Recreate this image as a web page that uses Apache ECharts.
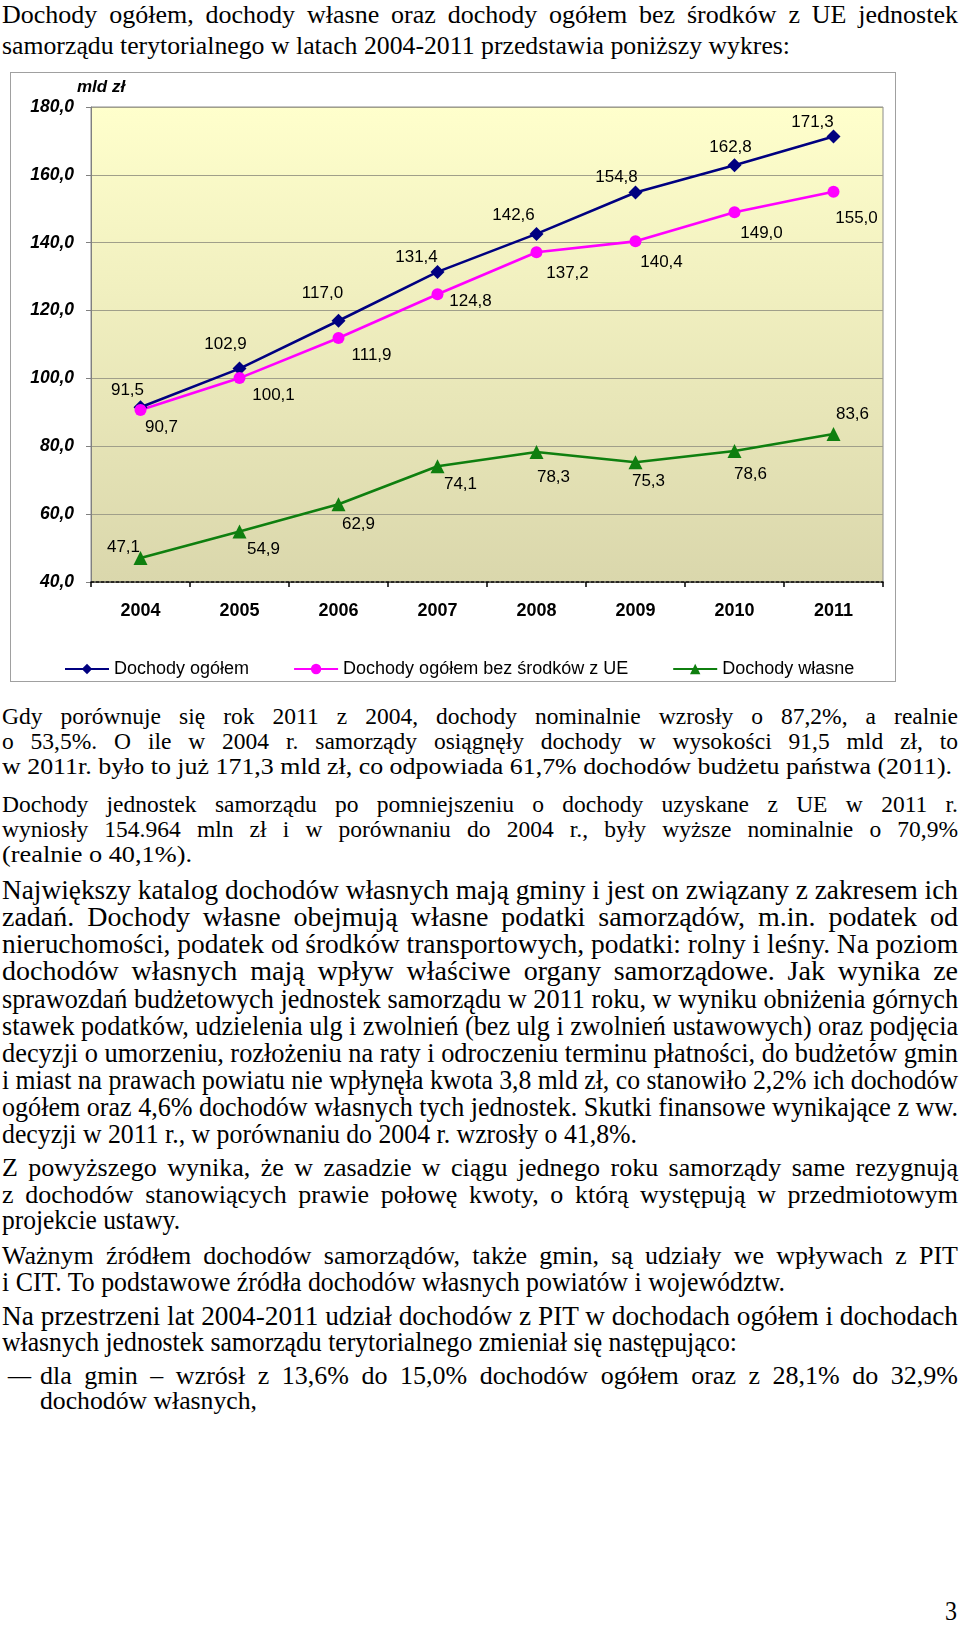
<!DOCTYPE html>
<html><head><meta charset="utf-8">
<script src="https://cdn.jsdelivr.net/npm/echarts@6/dist/echarts.min.js"></script>
<style>
html,body{margin:0;padding:0;background:#fff;}
#page{position:relative;width:960px;height:1633px;overflow:hidden;background:#fff;}
.ln{position:absolute;white-space:nowrap;font-family:"Liberation Serif","Times New Roman",serif;color:#000;transform-origin:0 50%;}
#chartBox{position:absolute;left:10px;top:72px;width:884px;height:608px;border:1px solid #A0A0A0;}
#chart{position:absolute;left:0;top:0;width:884px;height:608px;}
</style></head>
<body>
<div id="page">
  <div id="chartBox"><div id="chart"></div></div>
</div>
<script>
// ---- chart data ----
const years = ['2004', '2005', '2006', '2007', '2008', '2009', '2010', '2011'];
const dochodyOgolem = [91.5, 102.9, 117.0, 131.4, 142.6, 154.8, 162.8, 171.3];
const dochodyBezUE = [90.7, 100.1, 111.9, 124.8, 137.2, 140.4, 149.0, 155.0];
const dochodyWlasne = [47.1, 54.9, 62.9, 74.1, 78.3, 75.3, 78.6, 83.6];
const seriesNames = ['Dochody ogółem', 'Dochody ogółem bez środków z UE', 'Dochody własne'];
const yMin = 40, yMax = 180, yStep = 20;
const unitLabel = 'mld zł';

// ---- label placement (layout only) ----
const offOgolem = [[-13,-17],[-14,-24],[-16,-27],[-21,-15],[-23,-19],[-19,-15],[-4,-18],[-21,-14]];
const offBezUE = [[21,17],[34,17],[33,17],[33,7],[31,21],[26,21],[27,21],[23,26]];
const offWlasne = [[-17,-11],[24,18],[20,20],[23,18],[17,25],[13,19],[16,23],[19,-20]];

const fmt = v => Number(v).toFixed(1).replace('.', ',');
const FONT = 'Liberation Sans';

function mkSeries(name, data, color, symbol, size, offsets) {
  return {
    name: name, type: 'line',
    data: data.map((v, i) => ({ value: v, label: { offset: offsets[i] } })),
    symbol: symbol, symbolSize: size,
    lineStyle: { color: color, width: 2.6 },
    itemStyle: { color: color },
    label: { show: true, position: 'inside', formatter: p => fmt(p.value), color: '#000', fontSize: 17, fontFamily: FONT },
    emphasis: { disabled: true },
    animation: false
  };
}

const chart = echarts.init(document.getElementById('chart'));
chart.setOption({
  animation: false,
  grid: {
    left: 80, right: 12, top: 34, bottom: 99, show: true,
    borderColor: '#8C8C8C', borderWidth: 1,
    backgroundColor: new echarts.graphic.LinearGradient(0, 0, 0, 1, [
      { offset: 0, color: '#FFFFCC' }, { offset: 1, color: '#DAD7AC' }
    ])
  },
  legend: {
    data: seriesNames, left: 48, top: 582, itemWidth: 44, itemHeight: 13, itemGap: 44,
    textStyle: { fontSize: 18, fontFamily: FONT, color: '#000' }
  },
  graphic: [{ type: 'text', left: 66, top: 6, style: { text: unitLabel, font: 'italic bold 17px "Liberation Sans"', fill: '#000' } }],
  xAxis: {
    type: 'category', data: years, boundaryGap: true,
    axisLine: { lineStyle: { color: '#000', type: [3, 2], width: 1.5 } },
    axisTick: { show: true, length: 5, lineStyle: { color: '#000', width: 1.5 } },
    axisLabel: { fontWeight: 'bold', fontSize: 18, color: '#000', margin: 20, fontFamily: FONT }
  },
  yAxis: {
    type: 'value', min: yMin, max: yMax, interval: yStep,
    axisLine: { show: true, lineStyle: { color: '#808080', width: 1 } },
    axisTick: { show: true, length: 5, lineStyle: { color: '#808080' } },
    splitLine: { lineStyle: { color: '#A09F8A', width: 1 } },
    axisLabel: { formatter: v => fmt(v), fontStyle: 'italic', fontWeight: 'bold', fontSize: 17.5, color: '#000', margin: 17, fontFamily: FONT }
  },
  series: [
    mkSeries(seriesNames[0], dochodyOgolem, '#000080', 'diamond', 14, offOgolem),
    mkSeries(seriesNames[1], dochodyBezUE, '#FF00FF', 'circle', 12, offBezUE),
    mkSeries(seriesNames[2], dochodyWlasne, '#0F7F0F', 'triangle', 14, offWlasne)
  ]
});

// ---- page text ----
const R = 958;
const A = 23.5, B = 28, C = 26;
const lines = [
  {t:'Dochody ogółem, dochody własne oraz dochody ogółem bez środków z UE jednostek', x:2, y:15, fs:C, end:R, j:1},
  {t:'samorządu terytorialnego w latach 2004-2011 przedstawia poniższy wykres:', x:2, y:46, fs:C, end:790, f:1},

  {t:'Gdy porównuje się rok 2011 z 2004, dochody nominalnie wzrosły o 87,2%, a realnie', x:2, y:717, fs:A, end:R, j:1},
  {t:'o 53,5%. O ile w 2004 r. samorządy osiągnęły dochody w wysokości 91,5 mld zł, to', x:2, y:742, fs:A, end:R, j:1},
  {t:'w 2011r. było to już 171,3 mld zł, co odpowiada 61,7% dochodów budżetu państwa (2011).', x:2, y:767, fs:A, end:952, f:1},

  {t:'Dochody jednostek samorządu po pomniejszeniu o dochody uzyskane z UE w 2011 r.', x:2, y:805, fs:A, end:R, j:1},
  {t:'wyniosły 154.964 mln zł i w porównaniu do 2004 r., były wyższe nominalnie o 70,9%', x:2, y:830, fs:A, end:R, j:1},
  {t:'(realnie o 40,1%).', x:2, y:855, fs:A, end:192, f:1},

  {t:'Największy katalog dochodów własnych mają gminy i jest on związany z zakresem ich', x:2, y:890, fs:B, end:R, j:1},
  {t:'zadań. Dochody własne obejmują własne podatki samorządów, m.in. podatek od', x:2, y:917, fs:B, end:R, j:1},
  {t:'nieruchomości, podatek od środków transportowych, podatki: rolny i leśny. Na poziom', x:2, y:944, fs:B, end:R, j:1},
  {t:'dochodów własnych mają wpływ właściwe organy samorządowe. Jak wynika ze', x:2, y:971, fs:B, end:R, j:1},
  {t:'sprawozdań budżetowych jednostek samorządu w 2011 roku, w wyniku obniżenia górnych', x:2, y:999, fs:B, end:R, j:1},
  {t:'stawek podatków, udzielenia ulg i zwolnień (bez ulg i zwolnień ustawowych) oraz podjęcia', x:2, y:1026, fs:B, end:R, j:1},
  {t:'decyzji o umorzeniu, rozłożeniu na raty i odroczeniu terminu płatności, do budżetów gmin', x:2, y:1053, fs:B, end:R, j:1},
  {t:'i miast na prawach powiatu nie wpłynęła kwota 3,8 mld zł, co stanowiło 2,2% ich dochodów', x:2, y:1080, fs:B, end:R, j:1},
  {t:'ogółem oraz 4,6% dochodów własnych tych jednostek. Skutki finansowe wynikające z ww.', x:2, y:1107, fs:B, end:R, j:1},
  {t:'decyzji w 2011 r., w porównaniu do 2004 r. wzrosły o 41,8%.', x:2, y:1134, fs:B, end:637, f:1},

  {t:'Z powyższego wynika, że w zasadzie w ciągu jednego roku samorządy same rezygnują', x:2, y:1168, fs:C, end:R, j:1},
  {t:'z dochodów stanowiących prawie połowę kwoty, o którą występują w przedmiotowym', x:2, y:1195, fs:C, end:R, j:1},
  {t:'projekcie ustawy.', x:2, y:1220, fs:B, end:180, f:1},

  {t:'Ważnym źródłem dochodów samorządów, także gmin, są udziały we wpływach z PIT', x:2, y:1256, fs:C, end:R, j:1},
  {t:'i CIT. To podstawowe źródła dochodów własnych powiatów i województw.', x:2, y:1282, fs:B, end:785, f:1},

  {t:'Na przestrzeni lat 2004-2011 udział dochodów z PIT w dochodach ogółem i dochodach', x:2, y:1316, fs:B, end:R, j:1},
  {t:'własnych jednostek samorządu terytorialnego zmieniał się następująco:', x:2, y:1342, fs:B, end:737, f:1},

  {t:'–', x:8, y:1376, fs:C, end:31, f:1},
  {t:'dla gmin – wzrósł z 13,6% do 15,0% dochodów ogółem oraz z 28,1% do 32,9%', x:40, y:1376, fs:C, end:R, j:1},
  {t:'dochodów własnych,', x:40, y:1401, fs:C, end:257, f:1},

  {t:'3', x:945, y:1611, fs:B, end:957, f:1}
];
const page = document.getElementById('page');
lines.forEach(L => {
  const d = document.createElement('div');
  d.className = 'ln';
  d.style.left = L.x + 'px';
  d.style.fontSize = L.fs + 'px';
  d.style.lineHeight = L.fs + 'px';
  d.style.top = (L.y - L.fs / 2) + 'px';
  d.textContent = L.t;
  page.appendChild(d);
  const w = d.getBoundingClientRect().width;
  const target = L.end - L.x;
  if (L.j && w < target) {
    const n = (L.t.match(/ /g) || []).length;
    if (n) d.style.wordSpacing = ((target - w) / n) + 'px';
  } else if (L.j || L.f) {
    d.style.transform = 'scaleX(' + (target / w) + ')';
  }
});
</script>
</body></html>
